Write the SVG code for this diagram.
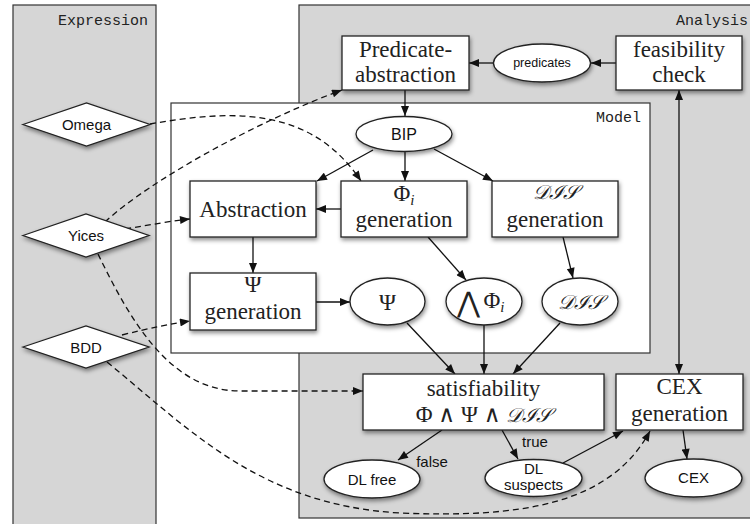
<svg xmlns="http://www.w3.org/2000/svg" width="750" height="524" viewBox="0 0 750 524">
  <defs>
    <filter id="sh" x="-20%" y="-20%" width="150%" height="170%">
      <feDropShadow dx="1" dy="2.5" stdDeviation="2.2" flood-color="#000" flood-opacity="0.45"/>
    </filter>
    <marker id="ah" viewBox="0 0 10 8" refX="10" refY="4" markerWidth="11" markerHeight="8" markerUnits="userSpaceOnUse" orient="auto-start-reverse">
      <path d="M0,0 L10,4 L0,8 Z" fill="#111"/>
    </marker>
    <style>
      .panel { fill: #d6d6d6; stroke: #333; stroke-width: 1.2; }
      .model { fill: #fff; stroke: #333; stroke-width: 1.2; }
      .box { fill: #fff; stroke: #222; stroke-width: 1.3; filter: url(#sh); }
      .plabel { font-family: "Liberation Mono", "Courier New", monospace; font-size: 15px; fill: #222; text-anchor: end; }
      .serif { font-family: "Liberation Serif", "DejaVu Serif", serif; font-size: 23px; fill: #222; text-anchor: middle; }
      .math { font-family: "DejaVu Serif", "Liberation Serif", serif; font-style: italic; font-size: 20px; fill: #222; text-anchor: middle; }
      .bigand { font-family: "DejaVu Sans", "DejaVu Serif", sans-serif; font-weight: 200; font-size: 28px; fill: #222; text-anchor: middle; }
      .sans { font-family: "Liberation Sans", Arial, sans-serif; font-size: 15px; fill: #111; text-anchor: middle; }
      .edge { fill: none; stroke: #111; stroke-width: 1.3; marker-end: url(#ah); }
      .dash { fill: none; stroke: #111; stroke-width: 1.3; stroke-dasharray: 6 4; marker-end: url(#ah); }
    </style>
  </defs>

  <!-- swimlanes -->
  <g id="lane-expression">
    <rect class="panel" x="13" y="5" width="143" height="530"/>
    <text class="plabel" x="148" y="25">Expression</text>
  </g>
  <g id="lane-analysis">
    <rect class="panel" x="299" y="5" width="470" height="513"/>
    <text class="plabel" x="748" y="25">Analysis</text>
  </g>
  <g id="lane-model">
    <rect class="model" x="171" y="103" width="479" height="250"/>
    <text class="plabel" x="641" y="122">Model</text>
  </g>

  <!-- connectors -->
  <g id="connectors">
    <path class="edge" d="M616,63 L591,63"/>
    <path class="edge" d="M494,63 L469,63"/>
    <path class="edge" d="M405,90 L405,116"/>
    <path class="edge" d="M373,150 L317,181"/>
    <path class="edge" d="M405,152 L405,181"/>
    <path class="edge" d="M434,149 L493,181"/>
    <path class="edge" d="M341,209 L316,209"/>
    <path class="edge" d="M253,237 L253,273"/>
    <path class="edge" d="M316,302 L350,302"/>
    <path class="edge" d="M428,237 L466,280"/>
    <path class="edge" d="M563,237 L573,278"/>
    <path class="edge" d="M407,323 L455,374"/>
    <path class="edge" d="M484,325 L484,374"/>
    <path class="edge" d="M560,323 L513,374"/>
    <path class="edge" d="M679,90 L679,374" marker-start="url(#ah)"/>
    <path class="edge" d="M442,430 L398,460"/>
    <path class="edge" d="M502,430 L518,459"/>
    <path class="edge" d="M563,463 L623,431"/>
    <path class="edge" d="M683,430 L687,459"/>

    <path class="dash" d="M150,124 C230,110 310,105 361,181"/>
    <path class="dash" d="M105,222 C150,180 260,120 342,90"/>
    <path class="dash" d="M125,229 C150,225 170,221 190,219"/>
    <path class="dash" d="M98,254 C130,320 170,391 240,391 L363,391"/>
    <path class="dash" d="M122,335 C150,328 170,324 190,321"/>
    <path class="dash" d="M107,362 C190,430 260,505 400,513 C520,518 610,505 650,431"/>

    <text class="sans" x="432" y="467">false</text>
    <text class="sans" x="535" y="447">true</text>
  </g>

  <!-- nodes -->
  <g id="pred-abstraction">
    <rect class="box" x="342" y="36" width="127" height="54"/>
    <text class="serif" x="405.5" y="57">Predicate-</text>
    <text class="serif" x="405.5" y="82">abstraction</text>
  </g>
  <g id="predicates">
    <ellipse class="box" cx="542" cy="63" rx="48.5" ry="19"/>
    <text class="sans" x="542" y="67" style="font-size:12.5px">predicates</text>
  </g>
  <g id="feasibility">
    <rect class="box" x="616" y="36" width="126" height="54"/>
    <text class="serif" x="679" y="57">feasibility</text>
    <text class="serif" x="679" y="82">check</text>
  </g>
  <g id="bip">
    <ellipse class="box" cx="404" cy="134" rx="48" ry="17.5"/>
    <text class="sans" x="404" y="140" style="font-size:16px">BIP</text>
  </g>
  <g id="abstraction">
    <rect class="box" x="190" y="181" width="126" height="56"/>
    <text class="serif" x="253" y="217">Abstraction</text>
  </g>
  <g id="phi-generation">
    <rect class="box" x="341" y="181" width="126" height="56"/>
    <text class="serif" x="404" y="201">Φ<tspan style="font-style:italic;font-size:15px" dy="4">i</tspan></text>
    <text class="serif" x="404" y="227">generation</text>
  </g>
  <g id="dis-generation">
    <rect class="box" x="492" y="181" width="126" height="56"/>
    <text class="math" x="555" y="199">𝒟ℐ𝒮</text>
    <text class="serif" x="555" y="227">generation</text>
  </g>
  <g id="psi-generation">
    <rect class="box" x="190" y="273" width="126" height="57"/>
    <text class="serif" x="253" y="292">Ψ</text>
    <text class="serif" x="253" y="319">generation</text>
  </g>
  <g id="psi">
    <ellipse class="box" cx="387.5" cy="301.5" rx="37.5" ry="23.5"/>
    <text class="serif" x="387.5" y="310">Ψ</text>
  </g>
  <g id="and-phi">
    <ellipse class="box" cx="484" cy="301.5" rx="38" ry="23.5"/>
    <text class="bigand" x="468" y="312">⋀</text>
    <text class="serif" x="494" y="308">Φ<tspan style="font-style:italic;font-size:15px" dy="4">i</tspan></text>
  </g>
  <g id="dis">
    <ellipse class="box" cx="580" cy="301.5" rx="38" ry="23.5"/>
    <text class="math" x="580" y="309">𝒟ℐ𝒮</text>
  </g>
  <g id="satisfiability">
    <rect class="box" x="363" y="374" width="241" height="56"/>
    <text class="serif" x="483.5" y="396">satisfiability</text>
    <text class="serif" x="483.5" y="422">Φ ∧ Ψ ∧ <tspan style="font-family:'DejaVu Serif',serif;font-style:italic;font-size:20px">𝒟ℐ𝒮</tspan></text>
  </g>
  <g id="cex-generation">
    <rect class="box" x="616" y="374" width="127" height="56"/>
    <text class="serif" x="679.5" y="394">CEX</text>
    <text class="serif" x="679.5" y="421">generation</text>
  </g>
  <g id="dl-free">
    <ellipse class="box" cx="372" cy="479" rx="48" ry="19"/>
    <text class="sans" x="372" y="485">DL free</text>
  </g>
  <g id="dl-suspects">
    <ellipse class="box" cx="533.5" cy="478" rx="48.5" ry="18.5"/>
    <text class="sans" x="533.5" y="474">DL</text>
    <text class="sans" x="533.5" y="490">suspects</text>
  </g>
  <g id="cex">
    <ellipse class="box" cx="693.5" cy="478" rx="48.5" ry="19"/>
    <text class="sans" x="693.5" y="483">CEX</text>
  </g>
  <g id="omega">
    <polygon class="box" points="23,124.5 86.5,103 150,124.5 86.5,146"/>
    <text class="sans" x="86.5" y="130">Omega</text>
  </g>
  <g id="yices">
    <polygon class="box" points="23,235.5 86,214 149,235.5 86,257"/>
    <text class="sans" x="86" y="241">Yices</text>
  </g>
  <g id="bdd">
    <polygon class="box" points="23,347 86,326 149,347 86,368"/>
    <text class="sans" x="86" y="353">BDD</text>
  </g>
</svg>
